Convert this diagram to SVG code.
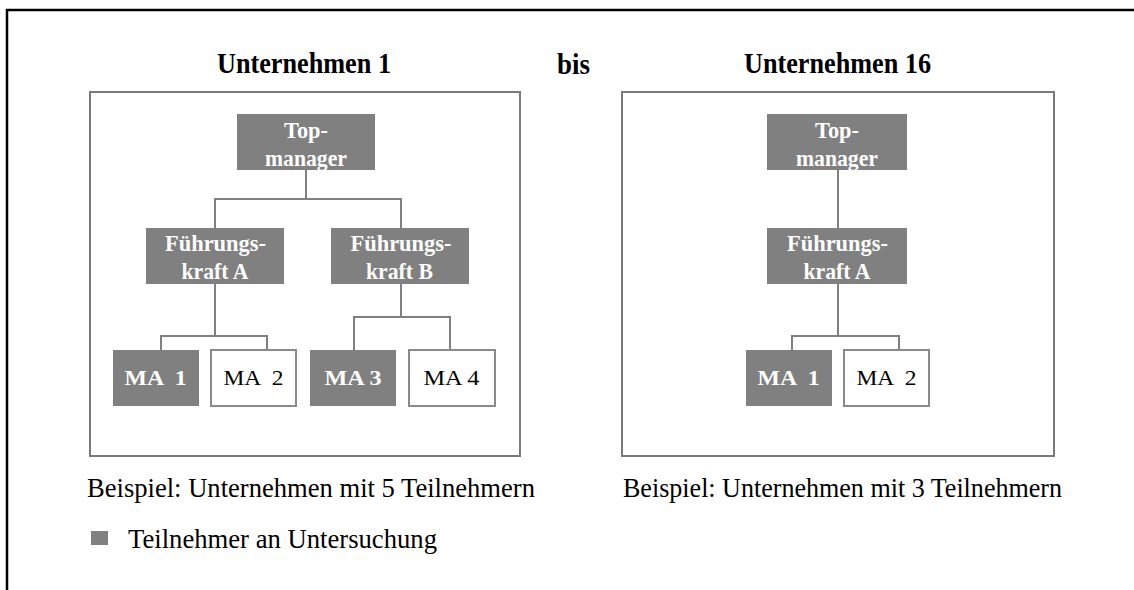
<svg xmlns="http://www.w3.org/2000/svg" width="1134" height="590" viewBox="0 0 1134 590">
  <style>
    .frame { fill: none; stroke: #000; stroke-width: 2.5; }
    .panel { fill: #fff; stroke: #7a7a7a; stroke-width: 2; }
    .dark { fill: #808080; }
    .light { fill: #fff; stroke: #8a8a8a; stroke-width: 2; }
    .conn { fill: none; stroke: #808080; stroke-width: 2; }
    .title { font-family: "Liberation Serif", "Times New Roman", serif; font-weight: bold; font-size: 29px; fill: #000; }
    .lbl { font-family: "Liberation Serif", "Times New Roman", serif; font-weight: bold; font-size: 23.5px; fill: #fff; text-anchor: middle; }
    .ma { font-family: "Liberation Serif", "Times New Roman", serif; font-weight: bold; font-size: 21px; fill: #fff; text-anchor: middle; }
    .maw { font-family: "Liberation Serif", "Times New Roman", serif; font-size: 21px; fill: #000; text-anchor: middle; }
    .cap { font-family: "Liberation Serif", "Times New Roman", serif; font-size: 26.5px; fill: #000; }
  </style>

  <rect x="0" y="0" width="1134" height="590" fill="#fff"/>
  <!-- outer frame, open to the right and bottom -->
  <rect class="frame" x="7" y="10" width="1200" height="700"/>

  <!-- headings -->
  <text class="title" x="217" y="72.5" textLength="174" lengthAdjust="spacingAndGlyphs">Unternehmen 1</text>
  <text class="title" x="557" y="73.5" textLength="33" lengthAdjust="spacingAndGlyphs">bis</text>
  <text class="title" x="744" y="72.5" textLength="187" lengthAdjust="spacingAndGlyphs">Unternehmen 16</text>

  <!-- panels -->
  <rect class="panel" x="90" y="92" width="430" height="364"/>
  <rect class="panel" x="622" y="92" width="432" height="364"/>

  <!-- connectors -->
  <g id="connectors">
    <path class="conn" d="M306,170 V199 M215,228 V199 H401 V228"/>
    <path class="conn" d="M215,284 V336 M161,350 V336 H267 V350"/>
    <path class="conn" d="M401,284 V317 M354,350 V317 H450 V350"/>
    <path class="conn" d="M838,170 V228"/>
    <path class="conn" d="M838,284 V336 M792,350 V336 H899 V350"/>
  </g>

  <!-- company 1 -->
  <g id="u1-top">
    <rect class="dark" x="237" y="114" width="138" height="56"/>
    <text class="lbl" x="306" y="137.5" textLength="44" lengthAdjust="spacingAndGlyphs">Top-</text>
    <text class="lbl" x="306" y="165.5" textLength="82" lengthAdjust="spacingAndGlyphs">manager</text>
  </g>
  <g id="u1-fk-a">
    <rect class="dark" x="146" y="228" width="138" height="56"/>
    <text class="lbl" x="215.5" y="251" textLength="101" lengthAdjust="spacingAndGlyphs">Führungs-</text>
    <text class="lbl" x="215" y="279" textLength="67" lengthAdjust="spacingAndGlyphs">kraft A</text>
  </g>
  <g id="u1-fk-b">
    <rect class="dark" x="331" y="228" width="138" height="56"/>
    <text class="lbl" x="401" y="251" textLength="101" lengthAdjust="spacingAndGlyphs">Führungs-</text>
    <text class="lbl" x="399.5" y="279" textLength="67" lengthAdjust="spacingAndGlyphs">kraft B</text>
  </g>
  <g id="u1-ma1">
    <rect class="dark" x="113" y="350" width="86" height="56"/>
    <text class="ma" x="155.5" y="384.5" xml:space="preserve" textLength="62" lengthAdjust="spacingAndGlyphs">MA  1</text>
  </g>
  <g id="u1-ma2">
    <rect class="light" x="211" y="350" width="85" height="56"/>
    <text class="maw" x="253.5" y="384.5" xml:space="preserve" textLength="60" lengthAdjust="spacingAndGlyphs">MA  2</text>
  </g>
  <g id="u1-ma3">
    <rect class="dark" x="310" y="350" width="86" height="56"/>
    <text class="ma" x="353" y="384.5" textLength="57" lengthAdjust="spacingAndGlyphs">MA 3</text>
  </g>
  <g id="u1-ma4">
    <rect class="light" x="409" y="350" width="86" height="56"/>
    <text class="maw" x="451.5" y="384.5" textLength="56" lengthAdjust="spacingAndGlyphs">MA 4</text>
  </g>

  <!-- company 16 -->
  <g id="u16-top">
    <rect class="dark" x="767" y="114" width="140" height="56"/>
    <text class="lbl" x="837" y="137.5" textLength="44" lengthAdjust="spacingAndGlyphs">Top-</text>
    <text class="lbl" x="837" y="165.5" textLength="82" lengthAdjust="spacingAndGlyphs">manager</text>
  </g>
  <g id="u16-fk-a">
    <rect class="dark" x="767" y="228" width="140" height="56"/>
    <text class="lbl" x="837.5" y="251" textLength="101" lengthAdjust="spacingAndGlyphs">Führungs-</text>
    <text class="lbl" x="837" y="279" textLength="67" lengthAdjust="spacingAndGlyphs">kraft A</text>
  </g>
  <g id="u16-ma1">
    <rect class="dark" x="746" y="350" width="86" height="56"/>
    <text class="ma" x="788.5" y="384.5" xml:space="preserve" textLength="62" lengthAdjust="spacingAndGlyphs">MA  1</text>
  </g>
  <g id="u16-ma2">
    <rect class="light" x="844" y="350" width="85" height="56"/>
    <text class="maw" x="886.5" y="384.5" xml:space="preserve" textLength="60" lengthAdjust="spacingAndGlyphs">MA  2</text>
  </g>

  <!-- captions -->
  <text class="cap" x="87" y="497" textLength="448" lengthAdjust="spacingAndGlyphs">Beispiel: Unternehmen mit 5 Teilnehmern</text>
  <text class="cap" x="623" y="497" textLength="439" lengthAdjust="spacingAndGlyphs">Beispiel: Unternehmen mit 3 Teilnehmern</text>

  <!-- legend -->
  <g id="legend">
    <rect class="dark" x="91" y="531" width="17" height="14"/>
    <text class="cap" x="128" y="548" textLength="309" lengthAdjust="spacingAndGlyphs">Teilnehmer an Untersuchung</text>
  </g>
</svg>
